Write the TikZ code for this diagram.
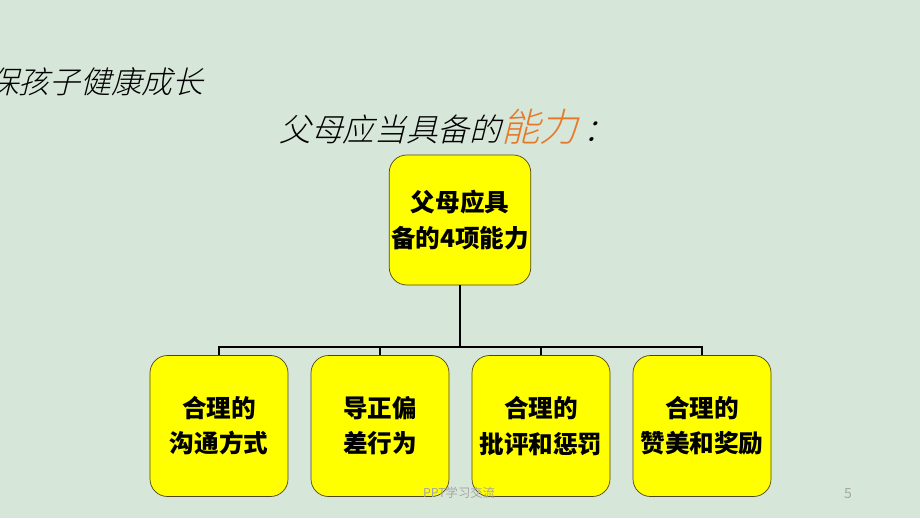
\documentclass[tikz,border=0pt]{standalone}
\usepackage{fontspec}
\usepackage{tikz}
\usetikzlibrary{positioning}
\newfontfamily\cjk{Noto Sans CJK SC}
\newfontfamily\cjkslant[FakeSlant=0.25]{Noto Sans CJK SC Light}
\definecolor{slidebg}{RGB}{214,230,216}
\definecolor{boxfill}{RGB}{255,255,0}
\definecolor{boxline}{RGB}{80,70,20}
\definecolor{orangetxt}{RGB}{232,120,40}
\tikzstyle{link} = [line width=1pt,draw=black]
\tikzstyle{ability} = [
    rectangle, rounded corners=0.35cm, minimum width=2.76cm, minimum height=2.82cm,
    text centered, align=center, fill=boxfill, draw=boxline, thin,
    font=\cjk\bfseries\fontsize{14}{20}\selectfont]

\begin{document}
\begin{tikzpicture}[node distance=3.22cm]
\fill[slidebg] (0,0) rectangle (18.4,10.36);
\useasboundingbox (0,0) rectangle (18.4,10.36);

\node (goal) [anchor=west, font=\cjkslant\fontsize{17.5}{19}\selectfont] at (-0.36,8.72) {保孩子健康成长};
\node (title) [font=\cjkslant\fontsize{18}{20}\selectfont] at (8.95,7.82)
    {父母应当具备的{\color{orangetxt}\fontsize{22}{23}\selectfont 能力}\,：};

\node (top) [ability, minimum width=2.8cm, minimum height=2.6cm, inner xsep=1pt] at (9.2,5.96) {
    父母应具 \\
    备的4项能力
};

\node (talk) [ability] at (4.38,1.84) {
    合理的 \\
    沟通方式
};
\node (guide) [ability, right of=talk] {
    导正偏 \\
    差行为
};
\node (punish) [ability, right of=guide] {
    合理的 \\
    批评和惩罚
};
\node (praise) [ability, right of=punish] {
    合理的 \\
    赞美和奖励
};

\coordinate (bus) at (9.2,3.42);
\draw[link] (top.south) -- (bus);
\draw[link] (talk.north) |- (bus) -| (praise.north);
\draw[link] (guide.north) -- (guide.north |- bus);
\draw[link] (punish.north) -- (punish.north |- bus);

\node (footer) [font=\cjk\fontsize{7}{8}\selectfont, text=gray!70] at (9.18,0.5) {PPT学习交流};
\node (page) [font=\cjk\fontsize{8}{9}\selectfont, text=gray!70] at (16.96,0.48) {5};
\end{tikzpicture}
\end{document}
